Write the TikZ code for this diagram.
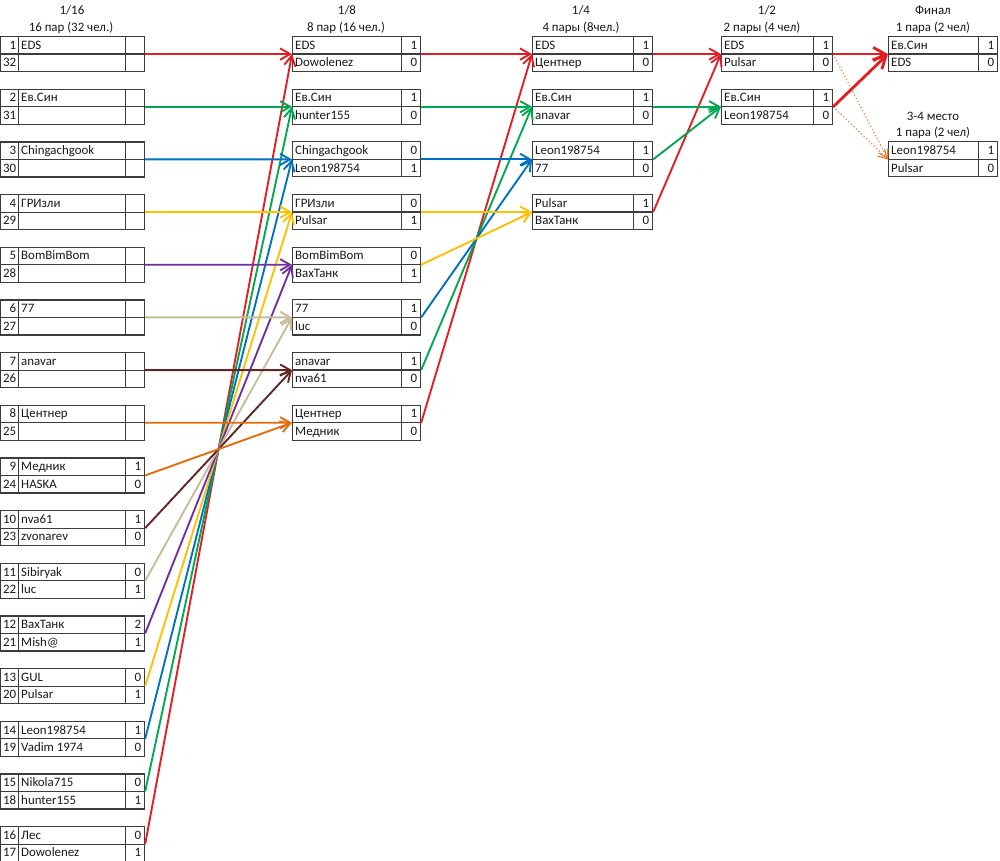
\documentclass[tikz,border=0pt]{standalone}
\usepackage{fontspec}
\setmainfont{Carlito}
\usepackage{xcolor}
\usepackage{tikz}
\usetikzlibrary{arrows.meta}

\definecolor{exred}{RGB}{228,28,36}
\definecolor{exgreen}{RGB}{0,168,80}
\definecolor{exblue}{RGB}{0,112,192}
\definecolor{exyellow}{RGB}{255,192,0}
\definecolor{expurple}{RGB}{112,48,160}
\definecolor{exbeige}{RGB}{196,189,151}
\definecolor{exbrown}{RGB}{99,37,35}
\definecolor{exorange}{RGB}{228,108,10}
\definecolor{exdot}{RGB}{237,125,49}
\definecolor{boxline}{RGB}{60,60,60}
\definecolor{txtcol}{RGB}{25,25,25}

% one match: id, x, y (top), name cell width, name A, score A, name B, score B
\newcommand{\pairbox}[8]{%
  \node[pair, minimum width={(#4+20)*0.3mm}] (#1) at ({#2},{#3}) {};
  \draw[cell] (#1.west) -- (#1.east);
  \draw[cell] ([xshift=-6mm]#1.north east) -- ([xshift=-6mm]#1.south east);
  \node[txt, anchor=base west] (#1a) at ({#2+3},{#3+13.3}) {#5};
  \node[txt, anchor=base east] (#1as) at ({#2+#4+17.5},{#3+13.3}) {#6};
  \node[txt, anchor=base west] (#1b) at ({#2+3},{#3+30.8}) {#7};
  \node[txt, anchor=base east] (#1bs) at ({#2+#4+17.5},{#3+30.8}) {#8};
}

\begin{document}
\begin{tikzpicture}[
    x=0.3mm, y=-0.3mm,
    pair/.style={rectangle, draw=boxline, line width=1pt, inner sep=0pt, minimum height=10.5mm, anchor=north west},
    cell/.style={draw=boxline, line width=1pt},
    txt/.style={inner sep=0pt, text=txtcol, font=\fontsize{11}{13}\selectfont},
    head/.style={inner sep=0pt, text=txtcol, font=\fontsize{11}{13}\selectfont},
    winner/.style={draw=#1, line width=1.6pt, -{Straight Barb[length=3mm, width=3.4mm]}},
    final/.style={draw=#1, line width=2.4pt, -{Straight Barb[length=3.6mm, width=4mm]}},
    loser/.style={draw=exdot, line width=1pt, dotted, -{Straight Barb[length=2.6mm, width=3mm]}}
]
\useasboundingbox (0,0) rectangle (1000,861);

% Headers
\node[head] (h16) at (72,10) {1/16};
\node[head] (h16n) at (71,28) {16 пар (32 чел.)};
\node[head] (h8) at (347,10) {1/8};
\node[head] (h8n) at (346,28) {8 пар (16 чел.)};
\node[head] (h4) at (581,10) {1/4};
\node[head] (h4n) at (581,28) {4 пары (8чел.)};
\node[head] (h2) at (767,10) {1/2};
\node[head] (h2n) at (762,28) {2 пары (4 чел)};
\node[head] (hf) at (933,10) {Финал};
\node[head] (hfn) at (933,28) {1 пара (2 чел)};
\node[head] (h34) at (933,116) {3-4 место};
\node[head] (h34n) at (933,133) {1 пара (2 чел)};

% 1/16
\foreach \i/\sa/\na/\pa/\sb/\nb/\pb in {
    1/1/EDS/{}/32/{}/{}, 2/2/Ев.Син/{}/31/{}/{}, 3/3/Chingachgook/{}/30/{}/{},
    4/4/ГРИзли/{}/29/{}/{}, 5/5/BomBimBom/{}/28/{}/{}, 6/6/77/{}/27/{}/{},
    7/7/anavar/{}/26/{}/{}, 8/8/Центнер/{}/25/{}/{}, 9/9/Медник/1/24/HASKA/0,
    10/10/nva61/1/23/zvonarev/0, 11/11/Sibiryak/0/22/luc/1, 12/12/ВахТанк/2/21/Mish@/1,
    13/13/GUL/0/20/Pulsar/1, 14/14/Leon198754/1/19/Vadim 1974/0,
    15/15/Nikola715/0/18/hunter155/1, 16/16/Лес/0/17/Dowolenez/1} {
  \pairbox{t\i}{18}{36+52.67*(\i-1)}{106}{\na}{\pa}{\nb}{\pb}
  \node[pair, minimum width=5.4mm] (n\i) at ({0},{36+52.67*(\i-1)}) {};
  \draw[cell] (n\i.west) -- (n\i.east);
  \node[txt, anchor=base east] (n\i a) at ({16.5},{36+52.67*(\i-1)+13.3}) {\sa};
  \node[txt, anchor=base east] (n\i b) at ({16.5},{36+52.67*(\i-1)+30.8}) {\sb};
}

% 1/8
\pairbox{o1}{292}{36}{108}{EDS}{1}{Dowolenez}{0}
\pairbox{o2}{292}{88.67}{108}{Ев.Син}{1}{hunter155}{0}
\pairbox{o3}{292}{141.33}{108}{Chingachgook}{0}{Leon198754}{1}
\pairbox{o4}{292}{194}{108}{ГРИзли}{0}{Pulsar}{1}
\pairbox{o5}{292}{246.67}{108}{BomBimBom}{0}{ВахТанк}{1}
\pairbox{o6}{292}{299.33}{108}{77}{1}{luc}{0}
\pairbox{o7}{292}{352}{108}{anavar}{1}{nva61}{0}
\pairbox{o8}{292}{404.67}{108}{Центнер}{1}{Медник}{0}

% 1/4
\pairbox{c1}{532}{36}{100}{EDS}{1}{Центнер}{0}
\pairbox{c2}{532}{88.67}{100}{Ев.Син}{1}{anavar}{0}
\pairbox{c3}{532}{141.33}{100}{Leon198754}{1}{77}{0}
\pairbox{c4}{532}{194}{100}{Pulsar}{1}{ВахТанк}{0}

% 1/2
\pairbox{s1}{721}{36}{91}{EDS}{1}{Pulsar}{0}
\pairbox{s2}{721}{88.67}{91}{Ев.Син}{1}{Leon198754}{0}

% Final and 3-4
\pairbox{fin}{888}{36}{89}{Ев.Син}{1}{EDS}{0}
\pairbox{bronze}{888}{141.33}{89}{Leon198754}{1}{Pulsar}{0}

% Connections 1/16 -> 1/8
\foreach \k/\col in {1/exred, 2/exgreen, 3/exblue, 4/exyellow, 5/expurple, 6/exbeige, 7/exbrown, 8/exorange} {
  \pgfmathtruncatemacro{\m}{17-\k}
  \draw[winner=\col] (t\k.east) -- (o\k.west);
  \draw[winner=\col] (t\m.east) -- (o\k.west);
}

% Connections 1/8 -> 1/4
\draw[winner=exred] (o1.east) -- (c1.west);
\draw[winner=exred] (o8.east) -- (c1.west);
\draw[winner=exgreen] (o2.east) -- (c2.west);
\draw[winner=exgreen] (o7.east) -- (c2.west);
\draw[winner=exblue] (o3.east) -- (c3.west);
\draw[winner=exblue] (o6.east) -- (c3.west);
\draw[winner=exyellow] (o4.east) -- (c4.west);
\draw[winner=exyellow] (o5.east) -- (c4.west);

% Connections 1/4 -> 1/2
\draw[winner=exred] (c1.east) -- (s1.west);
\draw[winner=exred] (c4.east) -- (s1.west);
\draw[winner=exgreen] (c2.east) -- (s2.west);
\draw[winner=exgreen] (c3.east) -- (s2.west);

% Connections 1/2 -> final, 3-4
\draw[loser] (s1.east) -- (bronze.west);
\draw[loser] (s2.east) -- (bronze.west);
\draw[final=exred] (s1.east) -- (fin.west);
\draw[final=exred] (s2.east) -- (fin.west);

\end{tikzpicture}
\end{document}
